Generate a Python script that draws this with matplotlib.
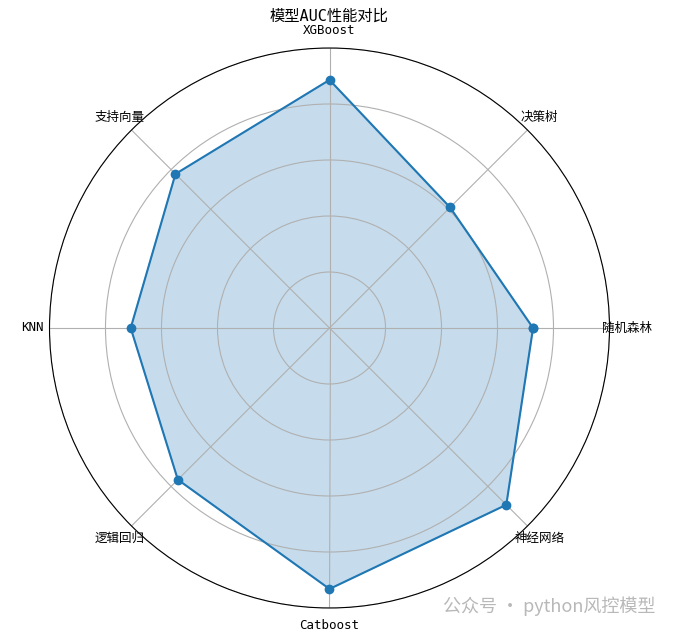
import numpy as np
import matplotlib
matplotlib.use("Agg")
import matplotlib.pyplot as plt

plt.rcParams['font.family'] = ['DejaVu Sans Mono', 'Noto Sans CJK SC']

categories = ['随机森林', '决策树', 'XGBoost', '支持向量', 'KNN', '逻辑回归', 'Catboost', '神经网络']
auc_values = [0.727, 0.609, 0.886, 0.778, 0.71, 0.766, 0.932, 0.893]

n = len(categories)
angles = np.linspace(0, 2 * np.pi, n, endpoint=False).tolist()
vals = auc_values + auc_values[:1]
ang = angles + angles[:1]

W, H = 677, 633
cx, cy, R = 329.5, 328, 280
fig = plt.figure(figsize=(W / 100, H / 100), dpi=100)
ax = fig.add_axes([(cx - R) / W, (H - cy - R) / H, 2 * R / W, 2 * R / H], polar=True)
ax.plot(ang, vals, 'o-', color='#1f77b4', linewidth=1.5, markersize=6)
ax.fill(ang, vals, color='#1f77b4', alpha=0.25)
ax.set_xticks(angles)
ax.set_xticklabels(categories, fontsize=9)
ax.tick_params(axis='x', pad=2)
ax.set_ylim(0, 1.0)
ax.set_yticks([0.2, 0.4, 0.6, 0.8, 1.0])
ax.set_yticklabels([])
ax.grid(color='#b0b0b0', linewidth=0.8)
fig.text(329 / W, 1 - 16.5 / H, '模型AUC性能对比', fontsize=11, ha='center', va='center')

fig.text(443 / W, 1 - 606 / H, '公众号 · python风控模型', fontsize=13, color='#b8b8b8',
         ha='left', va='center', family=['Noto Sans CJK SC', 'DejaVu Sans'])

fig.savefig('out.png', dpi=100)
